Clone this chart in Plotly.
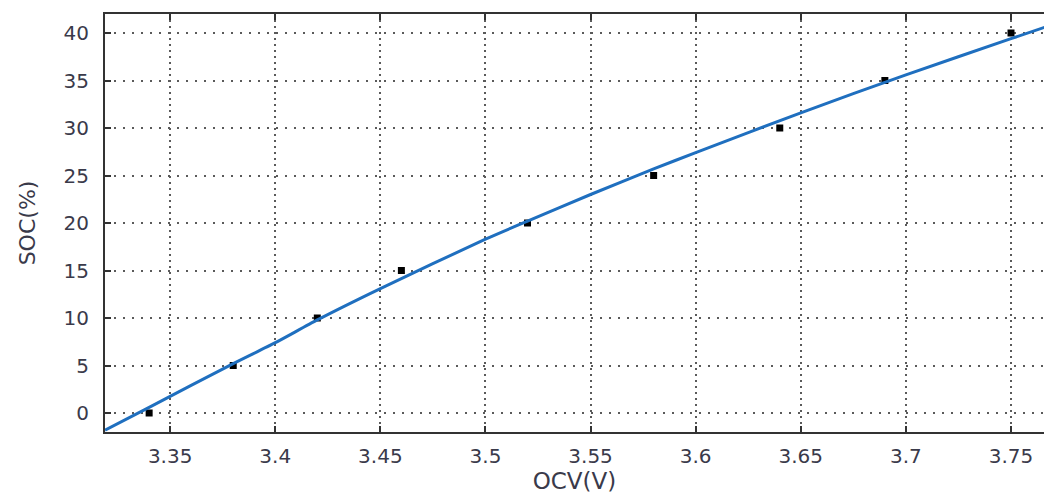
import plotly.graph_objects as go

# Measured data points (OCV in V, SOC in %)
ocv_points = [3.34, 3.38, 3.42, 3.46, 3.52, 3.58, 3.64, 3.69, 3.75]
soc_points = [0, 5, 10, 15, 20, 25, 30, 35, 40]

# Fitted curve
ocv_fit = [3.319, 3.34, 3.38, 3.40, 3.42, 3.45, 3.50, 3.52, 3.55, 3.58, 3.60, 3.65, 3.70, 3.75, 3.766]
soc_fit = [-1.8, 0.6, 5.2, 7.4, 9.8, 13.1, 18.3, 20.2, 23.0, 25.7, 27.4, 31.6, 35.6, 39.4, 40.6]

x_ticks = [3.35, 3.4, 3.45, 3.5, 3.55, 3.6, 3.65, 3.7, 3.75]
x_tick_text = ["3.35", "3.4", "3.45", "3.5", "3.55", "3.6", "3.65", "3.7", "3.75"]
y_ticks = [0, 5, 10, 15, 20, 25, 30, 35, 40]

fig = go.Figure()
fig.add_trace(go.Scatter(
    x=ocv_points, y=soc_points, mode="markers",
    marker=dict(symbol="square", size=7, color="black"),
    showlegend=False,
))
fig.add_trace(go.Scatter(
    x=ocv_fit, y=soc_fit, mode="lines",
    line=dict(color="#1f6fbf", width=3, shape="spline", smoothing=0.6),
    showlegend=False,
))

font_color = "#3a3a4a"
font_family = "DejaVu Sans, Liberation Sans, Arial, sans-serif"
fig.update_layout(
    width=1044, height=496,
    margin=dict(l=105, r=0, t=14, b=64),
    paper_bgcolor="white", plot_bgcolor="white",
    font=dict(family=font_family, size=20, color=font_color),
    xaxis=dict(
        range=[3.319, 3.7657],
        tickvals=x_ticks, ticktext=x_tick_text,
        showgrid=True, gridcolor="#5a5a5a", griddash="2px,4px", gridwidth=1.5,
        showline=True, linecolor="#333333", linewidth=2,
        mirror="ticks", ticks="inside", ticklen=6, tickwidth=2, tickcolor="#333333",
        zeroline=False, ticklabelstandoff=5,
        title=dict(text="OCV(V)", font=dict(size=23, color=font_color), standoff=6),
    ),
    yaxis=dict(
        range=[-2, 42],
        tickvals=y_ticks,
        showgrid=True, gridcolor="#5a5a5a", griddash="2px,7px", gridwidth=1.5,
        showline=True, linecolor="#333333", linewidth=2,
        mirror=False, ticks="inside", ticklen=6, tickwidth=2, tickcolor="#333333",
        zeroline=False, ticklabelstandoff=10,
        title=dict(text="SOC(%)", font=dict(size=22, color=font_color), standoff=22),
    ),
)

fig.write_html("out.html")
